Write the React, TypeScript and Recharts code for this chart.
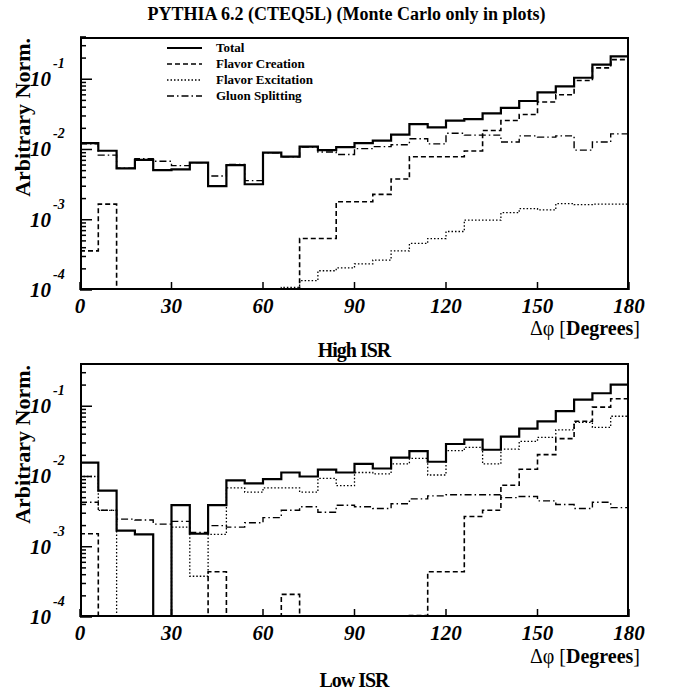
import { Line, LineChart, XAxis, YAxis } from "recharts"

const edges = [0, 6, 12, 18, 24, 30, 36, 42, 48, 54, 60, 66, 72, 78, 84, 90, 96, 102, 108, 114, 120, 126, 132, 138, 144, 150, 156, 162, 168, 174]
const xTicks = [0, 30, 60, 90, 120, 150, 180]
const E = 1e-6 // empty bin, drawn down to the floor

// High ISR
const highTotal = [0.0123, 0.0096, 0.0054, 0.0071, 0.0051, 0.0052, 0.0065, 0.003, 0.006, 0.0032, 0.009, 0.0079, 0.011, 0.0098, 0.0108, 0.0123, 0.0134, 0.0163, 0.0229, 0.0207, 0.0258, 0.027, 0.0327, 0.039, 0.049, 0.065, 0.079, 0.105, 0.161, 0.212]
const highCreation = [0.00036, 0.00167, E, E, E, E, E, E, E, E, E, E, 0.00054, 0.00054, 0.0018, 0.0018, 0.0023, 0.0038, 0.0079, 0.0079, 0.0079, 0.0095, 0.0186, 0.0258, 0.0315, 0.0475, 0.06, 0.096, 0.145, 0.19]
const highExcitation = [E, E, E, E, E, E, E, E, E, E, E, 0.000109, 0.000136, 0.000188, 0.000206, 0.000235, 0.000267, 0.00036, 0.00046, 0.00054, 0.00068, 0.00099, 0.00099, 0.00126, 0.00144, 0.00138, 0.0017, 0.00164, 0.00167, 0.00167]
const highGluon = [0.012, 0.0083, 0.0054, 0.0074, 0.0068, 0.0059, 0.0065, 0.0042, 0.0061, 0.0036, 0.009, 0.0079, 0.0108, 0.0092, 0.0085, 0.0103, 0.011, 0.0117, 0.0142, 0.012, 0.017, 0.016, 0.016, 0.0128, 0.0156, 0.015, 0.0156, 0.0098, 0.0128, 0.0167]

// Low ISR
const lowTotal = [0.0158, 0.0063, 0.0017, 0.0015, E, 0.0039, 0.00153, 0.0039, 0.0088, 0.008, 0.0092, 0.0114, 0.01, 0.0125, 0.0114, 0.0151, 0.013, 0.0185, 0.023, 0.0162, 0.029, 0.0334, 0.024, 0.037, 0.048, 0.061, 0.085, 0.124, 0.153, 0.203]
const lowCreation = [0.00153, E, E, E, E, E, E, 0.00044, E, E, E, 0.00021, E, E, E, E, E, E, 0.000105, 0.00044, 0.00044, 0.0027, 0.0033, 0.0075, 0.0127, 0.0205, 0.0346, 0.061, 0.097, 0.128]
const lowExcitation = [0.01, 0.0033, E, 0.000102, E, 0.0019, 0.00038, 0.0015, 0.0069, 0.006, 0.0069, 0.0069, 0.006, 0.0094, 0.0074, 0.0114, 0.0109, 0.0151, 0.0181, 0.0105, 0.0233, 0.026, 0.0151, 0.0245, 0.0317, 0.036, 0.046, 0.059, 0.05, 0.072]
const lowGluon = [0.0043, 0.0033, 0.00247, 0.0024, 0.0021, 0.0023, 0.0016, 0.002, 0.0019, 0.0022, 0.0026, 0.0033, 0.0037, 0.0031, 0.0039, 0.0037, 0.0035, 0.0041, 0.0048, 0.0053, 0.0055, 0.0055, 0.0055, 0.005, 0.0052, 0.0045, 0.004, 0.0035, 0.0043, 0.0036]

const majorY = [1e-4, 1e-3, 1e-2, 1e-1]
const yTicks: number[] = []
for (const d of [1e-4, 1e-3, 1e-2, 1e-1]) {
  for (let m = 1; m <= 9; m++) {
    if (d * m <= 0.4) yTicks.push(d * m)
  }
}

const serif = "'Liberation Serif', 'DejaVu Serif', serif"

function buildRows(total: number[], creation: number[], excitation: number[], gluon: number[]) {
  const rows = edges.map((x, i) => ({
    x,
    total: total[i],
    creation: creation[i],
    excitation: excitation[i],
    gluon: gluon[i],
  }))
  const last = edges.length - 1
  rows.push({ x: 180, total: total[last], creation: creation[last], excitation: excitation[last], gluon: gluon[last] })
  return rows
}

function YTick(props: any) {
  const { x, y, payload } = props
  const v = payload.value
  const major = majorY.some((m) => Math.abs(m - v) / m < 1e-6)
  return (
    <g>
      <line x1={x} x2={x + (major ? 12 : 6)} y1={y} y2={y} stroke="#000" strokeWidth={1.5} />
      {major && (
        <text fontFamily={serif} fontWeight="bold" fontStyle="italic" fill="#000">
          <tspan x={x - 50} y={y + 7} fontSize={21}>10</tspan>
          <tspan x={x - 27} y={y - 11} fontSize={14}>{Math.round(Math.log10(v))}</tspan>
        </text>
      )}
    </g>
  )
}

function XTick(props: any) {
  const { x, y, payload } = props
  return (
    <g>
      <line x1={x} x2={x} y1={y} y2={y - 8} stroke="#000" strokeWidth={1.5} />
      <text x={x} y={y + 23} textAnchor="middle" fontFamily={serif} fontWeight="bold" fontStyle="italic" fontSize={21} fill="#000">
        {payload.value}
      </text>
    </g>
  )
}

function Panel({ rows, top }: { rows: any[]; top: number }) {
  return (
    <div style={{ position: "absolute", left: 0, top }}>
      <LineChart width={693} height={330} data={rows} margin={{ top: 36.7, right: 64, bottom: 0, left: 0 }}>
        <XAxis dataKey="x" type="number" domain={[0, 180]} ticks={xTicks} height={40} axisLine={false} tickLine={false} tickSize={0} tickMargin={0} tick={<XTick />} interval={0} />
        <YAxis scale="log" domain={[1e-4, 0.403]} allowDataOverflow ticks={yTicks} width={80} axisLine={false} tickLine={false} tickSize={0} tickMargin={0} tick={<YTick />} interval={0} />
        <Line dataKey="gluon" type="stepAfter" stroke="#000" strokeWidth={1.4} strokeDasharray="7 3 1.5 3" dot={false} isAnimationActive={false} />
        <Line dataKey="excitation" type="stepAfter" stroke="#000" strokeWidth={1.3} strokeDasharray="1.5 2" dot={false} isAnimationActive={false} />
        <Line dataKey="creation" type="stepAfter" stroke="#000" strokeWidth={1.6} strokeDasharray="5 3" dot={false} isAnimationActive={false} />
        <Line dataKey="total" type="stepAfter" stroke="#000" strokeWidth={2.2} dot={false} isAnimationActive={false} />
      </LineChart>
      <div style={{ position: "absolute", left: 80, top: 36.7, width: 549, height: 253.3, border: "2px solid #000", boxSizing: "border-box", pointerEvents: "none" }} />
      <svg style={{ position: "absolute", left: 6, top: 36, overflow: "visible", pointerEvents: "none" }} width={30} height={200}>
        <text transform="translate(24,2) rotate(-90)" textAnchor="end" fontFamily={serif} fontWeight="bold" fontSize={22} fill="#000">
          Arbitrary Norm.
        </text>
      </svg>
    </div>
  )
}

const legendItems = [
  { label: "Total", dash: undefined, width: 2 },
  { label: "Flavor Creation", dash: "5 3", width: 1.6 },
  { label: "Flavor Excitation", dash: "1.5 2", width: 1.3 },
  { label: "Gluon Splitting", dash: "7 3 1.5 3", width: 1.4 },
]

export default function App() {
  const high = buildRows(highTotal, highCreation, highExcitation, highGluon)
  const low = buildRows(lowTotal, lowCreation, lowExcitation, lowGluon)
  const textStyle = { position: "absolute" as const, fontFamily: serif, fontWeight: "bold" as const, color: "#000", whiteSpace: "nowrap" as const, lineHeight: "20px" }
  return (
    <div style={{ position: "absolute", left: 0, top: 0, width: 693, height: 692, background: "#fff" }}>
      <div style={{ ...textStyle, left: 0, width: 693, top: 4, textAlign: "center", fontSize: 18 }}>
        PYTHIA 6.2 (CTEQ5L) (Monte Carlo only in plots)
      </div>
      <Panel rows={high} top={0} />
      <Panel rows={low} top={326.6} />
      <svg style={{ position: "absolute", left: 0, top: 0 }} width={693} height={120}>
        {legendItems.map((it, i) => (
          <g key={it.label}>
            <line x1={167} x2={202} y1={48 + i * 16} y2={48 + i * 16} stroke="#000" strokeWidth={it.width} strokeDasharray={it.dash} />
            <text x={216} y={52 + i * 16} fontFamily={serif} fontWeight="bold" fontSize={13} fill="#000">{it.label}</text>
          </g>
        ))}
      </svg>
      <div style={{ ...textStyle, right: 693 - 640, top: 318, fontSize: 20 }}>
        <span style={{ fontWeight: "normal" }}>Δφ [</span>Degrees<span style={{ fontWeight: "normal" }}>]</span>
      </div>
      <div style={{ ...textStyle, right: 693 - 640, top: 646, fontSize: 20 }}>
        <span style={{ fontWeight: "normal" }}>Δφ [</span>Degrees<span style={{ fontWeight: "normal" }}>]</span>
      </div>
      <div style={{ ...textStyle, left: 254, width: 200, textAlign: "center", top: 340, fontSize: 20, letterSpacing: -1 }}>High ISR</div>
      <div style={{ ...textStyle, left: 254, width: 200, textAlign: "center", top: 670, fontSize: 20, letterSpacing: -1 }}>Low ISR</div>
    </div>
  )
}
